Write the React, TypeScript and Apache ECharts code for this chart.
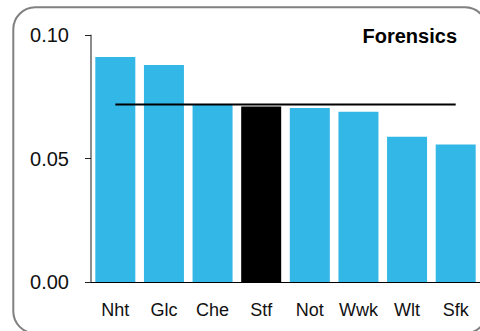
import React, { useEffect, useRef } from "react";
import * as echarts from "echarts";

const categories = ["Nht", "Glc", "Che", "Stf", "Not", "Wwk", "Wlt", "Sfk"];
const values = [0.0912, 0.088, 0.0717, 0.0711, 0.0705, 0.069, 0.0589, 0.0557];
const highlighted = "Stf";
const referenceValue = 0.072;
const yTicks = { min: 0, max: 0.1, interval: 0.05 };
const title = "Forensics";

export default function App() {
  const ref = useRef<HTMLDivElement>(null);
  useEffect(() => {
    if (!ref.current) return;
    const chart = echarts.init(ref.current, null, { renderer: "svg" });
    const font = "'Liberation Sans', Arial, sans-serif";
    chart.setOption({
      animation: false,
      grid: { left: 91, top: 35.3, width: 392, bottom: 49, containLabel: false },
      graphic: [
        {
          type: "rect",
          shape: { x: 13.3, y: 7.3, width: 473.7, height: 326, r: 22 },
          style: { fill: "none", stroke: "#808080", lineWidth: 2 },
          z: 0,
        },
        {
          type: "text",
          x: 457,
          y: 35.5,
          style: {
            text: title,
            font: `bold 20px ${font}`,
            fill: "#000",
            textAlign: "right",
            textVerticalAlign: "middle",
          },
          z: 10,
        },
      ],
      xAxis: {
        type: "category",
        data: categories,
        axisLine: { lineStyle: { color: "#000", width: 1 } },
        axisTick: { show: false },
        axisLabel: { color: "#111", fontSize: 18, fontFamily: font, margin: 19, interval: 0 },
      },
      yAxis: {
        type: "value",
        min: yTicks.min,
        max: yTicks.max,
        interval: yTicks.interval,
        splitLine: { show: false },
        axisLine: { show: true, lineStyle: { color: "#666", width: 1.5 } },
        axisTick: { show: true, length: 6, lineStyle: { color: "#222" } },
        axisLabel: {
          color: "#111",
          fontSize: 20,
          fontFamily: font,
          margin: 22,
          formatter: (v: number) => v.toFixed(2),
        },
      },
      series: [
        {
          type: "bar",
          barWidth: 40,
          data: values.map((v, i) => ({
            value: v,
            itemStyle: { color: categories[i] === highlighted ? "#000" : "#33B7E7" },
          })),
        },
        {
          type: "line",
          data: categories.map(() => referenceValue),
          symbol: "none",
          lineStyle: { color: "#000", width: 2 },
          z: 5,
        },
      ],
    });
    return () => chart.dispose();
  }, []);
  return (
    <div
      ref={ref}
      style={{ position: "fixed", left: 0, top: 0, width: 480, height: 331, background: "#fff" }}
    />
  );
}
